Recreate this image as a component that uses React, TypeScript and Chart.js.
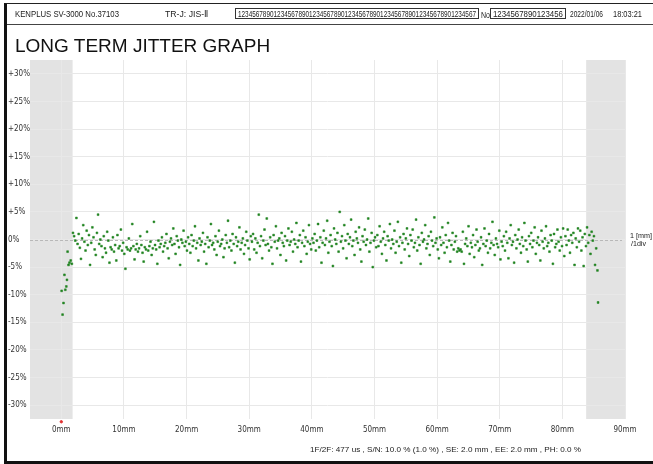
import React, { useEffect, useLayoutEffect, useRef } from "react";
import { Chart, registerables } from "chart.js";

Chart.register(...registerables);

// ---- axes ----
const X_TICKS = [0, 10, 20, 30, 40, 50, 60, 70, 80, 90];
const Y_TICKS = [-30, -25, -20, -15, -10, -5, 0, 5, 10, 15, 20, 25, 30];
const X_MIN = -5;
const X_MAX = 90;
const Y_MIN = -32.5;
const Y_MAX = 32.5;

// shaded zones (mm)
const SE_ZONE = [-5, 1.8];
const EE_ZONE = [83.8, 90];

// ---- data (jitter %, vs position mm) ----
const START_X = [0.05, 0.2, 0.35, 0.5, 0.64, 0.8, 0.9, 1.0, 1.15, 1.3];
const START_Y = [-9.3, -13.6, -11.5, -6.4, -9.1, -8.5, -7.3, -2.2, -4.6, -4.2];

const MAIN_X_START = 1.5;
const MAIN_X_STEP = 0.182;
const MAIN_Y = [
  // 1.5 - 10 mm
  -3.8, -4.4, 1.2, 0.6, -0.2, 3.9, -0.8, 1.0, -1.5, -3.5, 0.2, 2.6, -0.4, -2.0, 1.6, -1.0, 0.8, -4.6, -0.6, 2.2,
  0.4, -1.8, -2.8, 1.2, 4.5, -0.8, 0.0, -1.2, -3.2, 0.6, -1.6, -2.4, 1.4, -0.2, -4.2, -1.4, -1.8, 0.4, -2.2, -1.0,
  -3.8, 0.8, -1.6, -1.2, 1.8, -2.0, -0.6, -2.6, -5.3,
  // 10 - 20 mm
  -1.4, -1.8, 0.2, -2.0, -1.6, 2.8, -1.2, -3.6, -1.8, -0.8, -2.2, -1.6, 0.6, -1.0, -2.4, -4.0, -1.4, -1.8, 1.4, -2.0,
  -1.2, -0.4, -2.8, -1.6, 3.2, -1.0, -1.8, -4.4, -0.2, -1.4, -0.8, 0.4, -2.2, -1.2, -0.6, 1.0, -1.6, -3.4, -0.4, 0.2,
  -1.0, 2.0, -0.8, -2.6, 0.6, -0.2, -1.4, -4.6, 0.0, -0.6, 1.6, -1.2, -0.4, -2.0, 0.4,
  // 20 - 30 mm
  -0.8, -2.4, 0.8, -1.2, -0.2, 2.4, -1.6, -0.6, -3.8, 0.2, -1.0, -0.4, 1.2, -2.2, -0.8, -4.4, 0.4, -1.4, -0.2, 2.8,
  -1.0, -0.6, -1.8, 0.6, -2.8, -0.4, 1.6, -1.2, -0.8, 0.0, -3.2, -1.6, 0.8, -0.6, 3.4, -1.4, -0.2, -2.0, 1.0, -0.8,
  -4.2, 0.4, -1.2, -0.4, 2.2, -1.8, -0.6, 0.2, -2.6, -1.0, 1.4, -0.2, -1.6, -3.6, 0.6,
  // 30 - 40 mm
  -0.4, 1.0, -1.8, 0.2, -2.4, -0.6, 4.5, -1.2, 0.6, -3.4, -0.2, 1.8, -1.0, 3.8, -0.8, -2.0, 0.4, -1.4, -4.4, 0.8,
  -0.4, 2.4, -1.6, -0.2, 0.2, -2.8, 1.2, -0.6, -1.2, 0.6, -3.8, -0.2, 2.0, -1.0, -0.4, 1.4, -2.2, 0.0, -0.8, 3.0,
  -1.4, -0.2, 0.8, -4.0, -0.6, 1.6, -1.2, 0.4, -2.6, -0.4, 2.6, -0.8, -1.8, 0.2, -0.6,
  // 40 - 50 mm
  1.0, -2.0, -0.2, 2.8, -1.4, 0.4, -4.2, -0.6, 1.6, -1.0, 0.2, 3.4, -2.4, -0.4, 0.8, -1.2, -4.8, 2.0, 0.0, -0.8,
  1.2, -2.2, 5.0, -0.4, 0.6, -1.6, 2.6, -0.2, -3.4, 1.0, -0.8, 0.4, 3.6, -1.2, -0.2, -2.8, 1.4, 0.2, -0.6, 2.2,
  -1.8, -4.0, 0.6, -0.4, 1.8, -1.0, 0.0, 3.8, -2.2, -0.6, 1.2, -5.0, -0.2, 0.4, -1.4,
  // 50 - 60 mm
  0.8, -1.2, 2.4, -0.4, -2.6, 0.2, 1.4, -1.0, -3.8, 0.6, -0.2, 2.8, -1.6, 0.0, -0.8, 1.6, -2.4, -0.4, 3.2, -1.2,
  0.4, -4.2, -0.6, 1.0, -1.8, 0.2, 2.0, -0.8, -3.0, 0.8, -0.2, 1.8, -1.4, -0.6, 3.6, -2.0, 0.4, -1.0, -4.4, 1.2,
  -0.4, 0.0, 2.6, -1.6, -0.8, 0.6, -2.8, 1.4, -0.2, -1.2, 4.0, -0.6, 0.2, -1.8, -3.4,
  // 60 - 70 mm
  0.4, -1.0, 2.2, -0.6, -2.4, 0.8, -1.4, 3.0, -0.2, -4.0, -1.0, 1.2, -1.8, -0.4, 0.6, -2.2, -1.6, -2.0, -1.8, -2.2,
  1.4, -4.4, -0.8, 0.2, -1.2, 2.4, -2.6, -0.6, -1.4, 0.8, -3.2, -1.0, 1.8, -0.4, -2.0, -1.6, 0.4, -4.6, -0.8, 2.0,
  -1.2, -0.2, -2.4, 1.0, -1.6, -0.6, 3.2, -1.0, -2.8, 0.2, -0.8, -1.4, 1.6, -3.6, -0.4,
  // 70 - 80 mm
  -1.2, 0.6, -2.0, 1.4, -0.6, -3.4, 0.2, 2.6, -1.0, -0.4, -4.2, 0.8, -1.6, 0.0, 1.8, -0.8, -2.4, 0.4, -1.2, 3.0,
  -0.2, -1.8, -4.0, 0.6, -0.8, 1.2, -1.4, -0.2, 2.2, -2.6, -0.6, 0.4, -1.0, -3.8, 1.6, -0.4, -1.6, 0.2, 2.4, -1.2,
  -0.6, -2.2, 0.8, -0.2, -4.4, 1.0, -1.4, -0.8, 1.8, -0.4, -2.0, 0.4, -1.2, 2.0, -3.0,
  // 80 - 85 mm
  0.6, -1.0, 1.8, -0.2, -2.4, 0.8, -0.6, 1.2, -4.6, 0.2, -1.4, 2.0, -0.4, 1.6, -2.0, 0.4, -4.8, 1.0, -1.2, 2.2,
  -0.6, 0.8, -2.6, 1.4, -0.2, 0.6, -4.6, -1.6,
];

const END_X = [85.6, 85.7];
const END_Y = [-5.6, -11.4];

// red origin marker below the plot
const MARK_X = [0];
const MARK_Y = [-33];

const SANS = "'Liberation Sans', Arial, sans-serif";
const NARROW = "'Liberation Sans Narrow', 'Arial Narrow', 'DejaVu Sans Condensed', sans-serif";

const bandsPlugin = {
  id: "bands",
  beforeDraw(chart: any) {
    const { ctx, chartArea, scales } = chart;
    const x = scales.x;
    ctx.save();
    ctx.fillStyle = "#e3e3e3";
    for (const [a, b] of [SE_ZONE, EE_ZONE]) {
      const x1 = x.getPixelForValue(a);
      const x2 = x.getPixelForValue(b);
      ctx.fillRect(x1, chartArea.top, x2 - x1, chartArea.bottom - chartArea.top);
    }
    ctx.restore();
  },
  beforeDatasetsDraw(chart: any) {
    const { ctx, chartArea, scales } = chart;
    const yz = Math.round(scales.y.getPixelForValue(0)) + 0.5;
    ctx.save();
    ctx.strokeStyle = "#b8b8b8";
    ctx.lineWidth = 1;
    ctx.setLineDash([3, 2]);
    ctx.beginPath();
    ctx.moveTo(chartArea.left, yz);
    ctx.lineTo(chartArea.right - 3, yz);
    ctx.stroke();
    ctx.restore();
  },
};

// text squeezed horizontally to a given width (condensed look)
function Fit(props: {
  left: number;
  top: number;
  width: number;
  size?: number;
  children: React.ReactNode;
  style?: React.CSSProperties;
}) {
  const ref = useRef<HTMLSpanElement>(null);
  useLayoutEffect(() => {
    const el = ref.current;
    if (!el) return;
    el.style.transform = "none";
    const w = el.getBoundingClientRect().width;
    if (w > 0) el.style.transform = `scaleX(${props.width / w})`;
  }, [props.width]);
  return (
    <span
      ref={ref}
      style={{
        position: "absolute",
        left: props.left,
        top: props.top,
        fontFamily: SANS,
        fontSize: props.size ?? 9,
        lineHeight: "10px",
        color: "#222",
        whiteSpace: "nowrap",
        transformOrigin: "0 0",
        ...props.style,
      }}
    >
      {props.children}
    </span>
  );
}

export default function App() {
  const ref = useRef<HTMLCanvasElement>(null);

  useEffect(() => {
    const pts = [
      ...START_X.map((x, i) => ({ x, y: START_Y[i] })),
      ...MAIN_Y.map((y, i) => ({ x: MAIN_X_START + i * MAIN_X_STEP, y })),
      ...END_X.map((x, i) => ({ x, y: END_Y[i] })),
    ];
    const chart = new Chart(ref.current!, {
      type: "scatter",
      data: {
        datasets: [
          {
            data: pts,
            pointStyle: "rect",
            pointRadius: 1.3,
            pointBackgroundColor: "#1f8a1f",
            pointBorderColor: "#1a7a1a",
            pointBorderWidth: 0.5,
          },
          {
            data: MARK_X.map((x, i) => ({ x, y: MARK_Y[i] })),
            pointRadius: 1.2,
            pointBackgroundColor: "#e03030",
            pointBorderColor: "#e03030",
            clip: false as any,
          },
        ],
      },
      options: {
        responsive: false,
        animation: false,
        events: [],
        layout: { padding: { left: 8, right: 28, top: 60, bottom: 0 } },
        plugins: { legend: { display: false }, tooltip: { enabled: false } },
        scales: {
          x: {
            type: "linear",
            min: X_MIN,
            max: X_MAX,
            afterBuildTicks: (s: any) => {
              s.ticks = X_TICKS.map((v) => ({ value: v }));
            },
            afterFit: (s: any) => {
              s.height = 45;
            },
            grid: { color: "#e8e8e8", drawTicks: false },
            border: { display: false },
            ticks: {
              padding: 6,
              color: "#333",
              font: { family: NARROW, size: 8 },
              callback: (v: any) => `${v}mm`,
              maxRotation: 0,
              autoSkip: false,
            },
          },
          y: {
            type: "linear",
            min: Y_MIN,
            max: Y_MAX,
            afterBuildTicks: (s: any) => {
              s.ticks = Y_TICKS.map((v) => ({ value: v }));
            },
            afterFit: (s: any) => {
              s.width = 22;
            },
            grid: { color: "#e8e8e8", drawTicks: false },
            border: { display: false },
            ticks: {
              padding: 0,
              crossAlign: "far",
              color: "#333",
              font: { family: NARROW, size: 8 },
              callback: (v: any) => (v > 0 ? `+${v}%` : `${v}%`),
              autoSkip: false,
            },
          },
        },
      },
      plugins: [bandsPlugin],
    });
    return () => chart.destroy();
  }, []);

  const boxStyle: React.CSSProperties = {
    position: "absolute",
    top: 8,
    height: 11,
    border: "1px solid #333",
    boxSizing: "border-box",
  };

  return (
    <div style={{ position: "fixed", left: 0, top: 0, width: 653, height: 464, background: "#fff", overflow: "hidden" }}>
      <canvas ref={ref} width={653} height={464} style={{ position: "absolute", left: 0, top: 0, width: 653, height: 464 }} />
      {/* frame */}
      <div
        style={{
          position: "absolute",
          left: 4,
          top: 3,
          width: 660,
          height: 457,
          borderTop: "1px solid #222",
          borderLeft: "3px solid #111",
          borderBottom: "3px solid #111",
          pointerEvents: "none",
        }}
      />
      <div style={{ position: "absolute", left: 7, top: 24, width: 646, height: 1, background: "#444" }} />
      <Fit left={15} top={9} width={104}>KENPLUS SV-3000 No.37103</Fit>
      <Fit left={165} top={9} width={43}>TR-J: JIS-Ⅱ</Fit>
      <div style={{ ...boxStyle, left: 235, width: 244 }} />
      <Fit left={238} top={9} width={238} size={8.5}>
        1234567890123456789012345678901234567890123456789012345678901234567
      </Fit>
      <Fit left={481} top={10} width={9}>No</Fit>
      <div style={{ ...boxStyle, left: 490, width: 76 }} />
      <Fit left={493} top={9} width={70} size={8.5}>1234567890123456</Fit>
      <Fit left={570} top={9} width={33}>2022/01/06</Fit>
      <Fit left={613} top={9} width={29}>18:03:21</Fit>
      <div
        style={{
          position: "absolute",
          left: 15,
          top: 35,
          fontFamily: SANS,
          fontSize: 19,
          lineHeight: "22px",
          color: "#111",
          whiteSpace: "nowrap",
        }}
      >
        LONG TERM JITTER GRAPH
      </div>
      <Fit left={630} top={232} width={22} size={8} style={{ lineHeight: "8px" }}>1 [mm]</Fit>
      <Fit left={631} top={240} width={15} size={8} style={{ lineHeight: "8px" }}>/1div</Fit>
      <Fit left={310} top={445} width={271} size={8}>
        1F/2F: 477 us , S/N: 10.0 % (1.0 %) , SE: 2.0 mm , EE: 2.0 mm , PH: 0.0 %
      </Fit>
    </div>
  );
}
